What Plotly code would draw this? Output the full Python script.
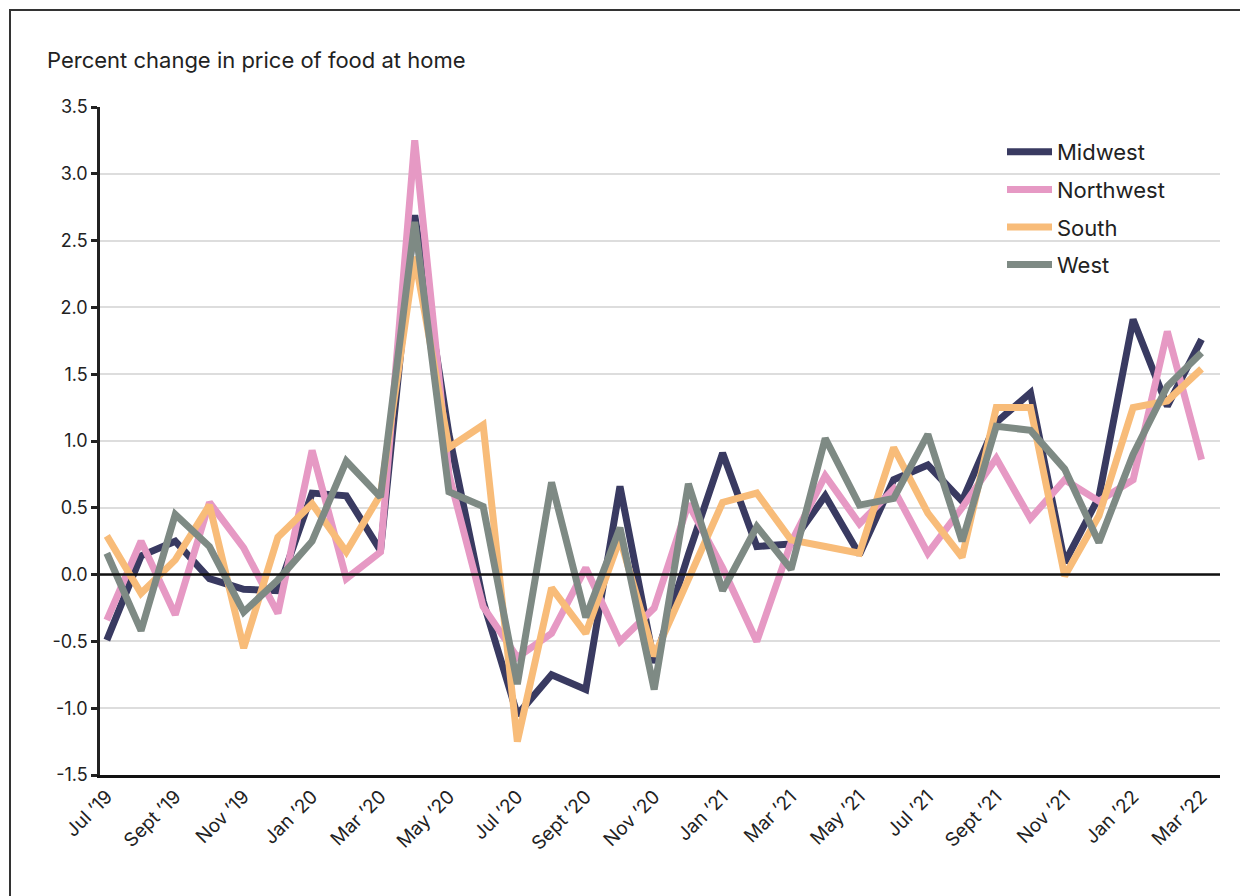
import plotly.graph_objects as go

months = ["Jul ’19", "Aug ’19", "Sept ’19", "Oct ’19", "Nov ’19", "Dec ’19",
          "Jan ’20", "Feb ’20", "Mar ’20", "Apr ’20", "May ’20", "Jun ’20",
          "Jul ’20", "Aug ’20", "Sept ’20", "Oct ’20", "Nov ’20", "Dec ’20",
          "Jan ’21", "Feb ’21", "Mar ’21", "Apr ’21", "May ’21", "Jun ’21",
          "Jul ’21", "Aug ’21", "Sept ’21", "Oct ’21", "Nov ’21", "Dec ’21",
          "Jan ’22", "Feb ’22", "Mar ’22"]

midwest = [-0.49, 0.14, 0.25, -0.03, -0.11, -0.12, 0.61, 0.59, 0.18, 2.69, 1.05,
           -0.20, -1.05, -0.75, -0.86, 0.66, -0.66, 0.15, 0.91, 0.21, 0.23, 0.59,
           0.15, 0.71, 0.82, 0.55, 1.14, 1.36, 0.09, 0.58, 1.91, 1.26, 1.76]
northwest = [-0.34, 0.25, -0.30, 0.54, 0.20, -0.29, 0.93, -0.03, 0.17, 3.25, 0.75,
             -0.24, -0.62, -0.44, 0.05, -0.50, -0.25, 0.53, 0.05, -0.50, 0.24, 0.74,
             0.38, 0.64, 0.16, 0.50, 0.87, 0.42, 0.71, 0.55, 0.71, 1.82, 0.86]
south = [0.29, -0.14, 0.11, 0.52, -0.55, 0.28, 0.53, 0.17, 0.60, 2.38, 0.95,
         1.12, -1.25, -0.10, -0.44, 0.27, -0.61, -0.04, 0.54, 0.61, 0.26, 0.21,
         0.16, 0.95, 0.46, 0.13, 1.25, 1.25, -0.01, 0.44, 1.25, 1.30, 1.54]
west = [0.16, -0.42, 0.45, 0.21, -0.28, -0.04, 0.25, 0.85, 0.58, 2.64, 0.62,
        0.51, -0.82, 0.69, -0.32, 0.35, -0.86, 0.68, -0.12, 0.36, 0.04, 1.02,
        0.52, 0.57, 1.05, 0.25, 1.11, 1.08, 0.79, 0.24, 0.90, 1.41, 1.66]

series_names = ["Midwest", "Northwest", "South", "West"]
series_values = [midwest, northwest, south, west]
series_colors = ["#393a61", "#e699c4", "#f8bc79", "#7e8a84"]

tick_labels = months[::2]
y_ticks = [-1.5, -1.0, -0.5, 0, 0.5, 1.0, 1.5, 2.0, 2.5, 3.0, 3.5]

FONT = "Inter, 'Open Sans', sans-serif"
TXT = "#222222"

fig = go.Figure()
for name, vals, col in zip(series_names, series_values, series_colors):
    fig.add_trace(go.Scatter(
        x=months, y=vals, name=name, mode="lines",
        line=dict(color=col, width=7),
        legendgroup=name,
    ))

# page body has an 8px margin; layout below is expressed in screen pixels
OFF = 8
W, H = 1248 - OFF, 896 - OFF
plot_left, plot_right, plot_top, plot_bottom = 100, 1220, 107, 775
L = plot_left - OFF
T = plot_top - OFF
R = W - (plot_right - OFF)
B = H - (plot_bottom - OFF)
pw, ph = W - L - R, H - T - B

def px_x(p):
    return (p - OFF - L) / pw

def px_y(p):
    return (H - B - (p - OFF)) / ph

fig.update_layout(
    width=W, height=H,
    margin=dict(l=L, r=R, t=T, b=B, pad=0),
    paper_bgcolor="white", plot_bgcolor="white",
    font=dict(family=FONT, color=TXT),
    showlegend=True,
    legend=dict(
        x=px_x(1002), y=px_y(131), xanchor="left", yanchor="top",
        font=dict(size=22, family=FONT, color=TXT),
        bgcolor="rgba(0,0,0,0)", tracegroupgap=6, traceorder="grouped",
        itemwidth=45,
    ),
    xaxis=dict(
        type="category", range=[-0.2, 32.54],
        tickmode="array", tickvals=tick_labels, ticktext=tick_labels,
        tickangle=-45, tickfont=dict(size=19, family=FONT, color=TXT),
        showgrid=False, zeroline=False,
        showline=True, linecolor="#111111", linewidth=3,
        ticks="",
    ),
    yaxis=dict(
        range=[-1.5, 3.5], tickmode="array", tickvals=y_ticks,
        ticktext=[f"{v:.1f}" for v in y_ticks],
        tickfont=dict(size=18, family=FONT, color=TXT),
        showgrid=True, gridcolor="#dddddd", gridwidth=1.5,
        zeroline=False,
        showline=True, linecolor="#222222", linewidth=2.5,
        ticks="outside", ticklen=6, tickwidth=2.5, tickcolor="#222222",
    ),
    shapes=[
        dict(type="line", xref="paper", yref="y", x0=0, x1=1, y0=0, y1=0,
             line=dict(color="#111111", width=2.5), layer="above"),
        dict(type="rect", xref="paper", yref="paper",
             x0=px_x(10), x1=px_x(1262), y0=px_y(910), y1=px_y(10),
             line=dict(color="#333333", width=2), fillcolor="rgba(0,0,0,0)",
             layer="above"),
    ],
    annotations=[
        dict(text="Percent change in price of food at home", xref="paper", yref="paper",
             x=px_x(45), y=px_y(60), xanchor="left", yanchor="middle",
             showarrow=False, font=dict(size=22, family=FONT, color=TXT)),
    ],
)

fig.write_html("out.html")
